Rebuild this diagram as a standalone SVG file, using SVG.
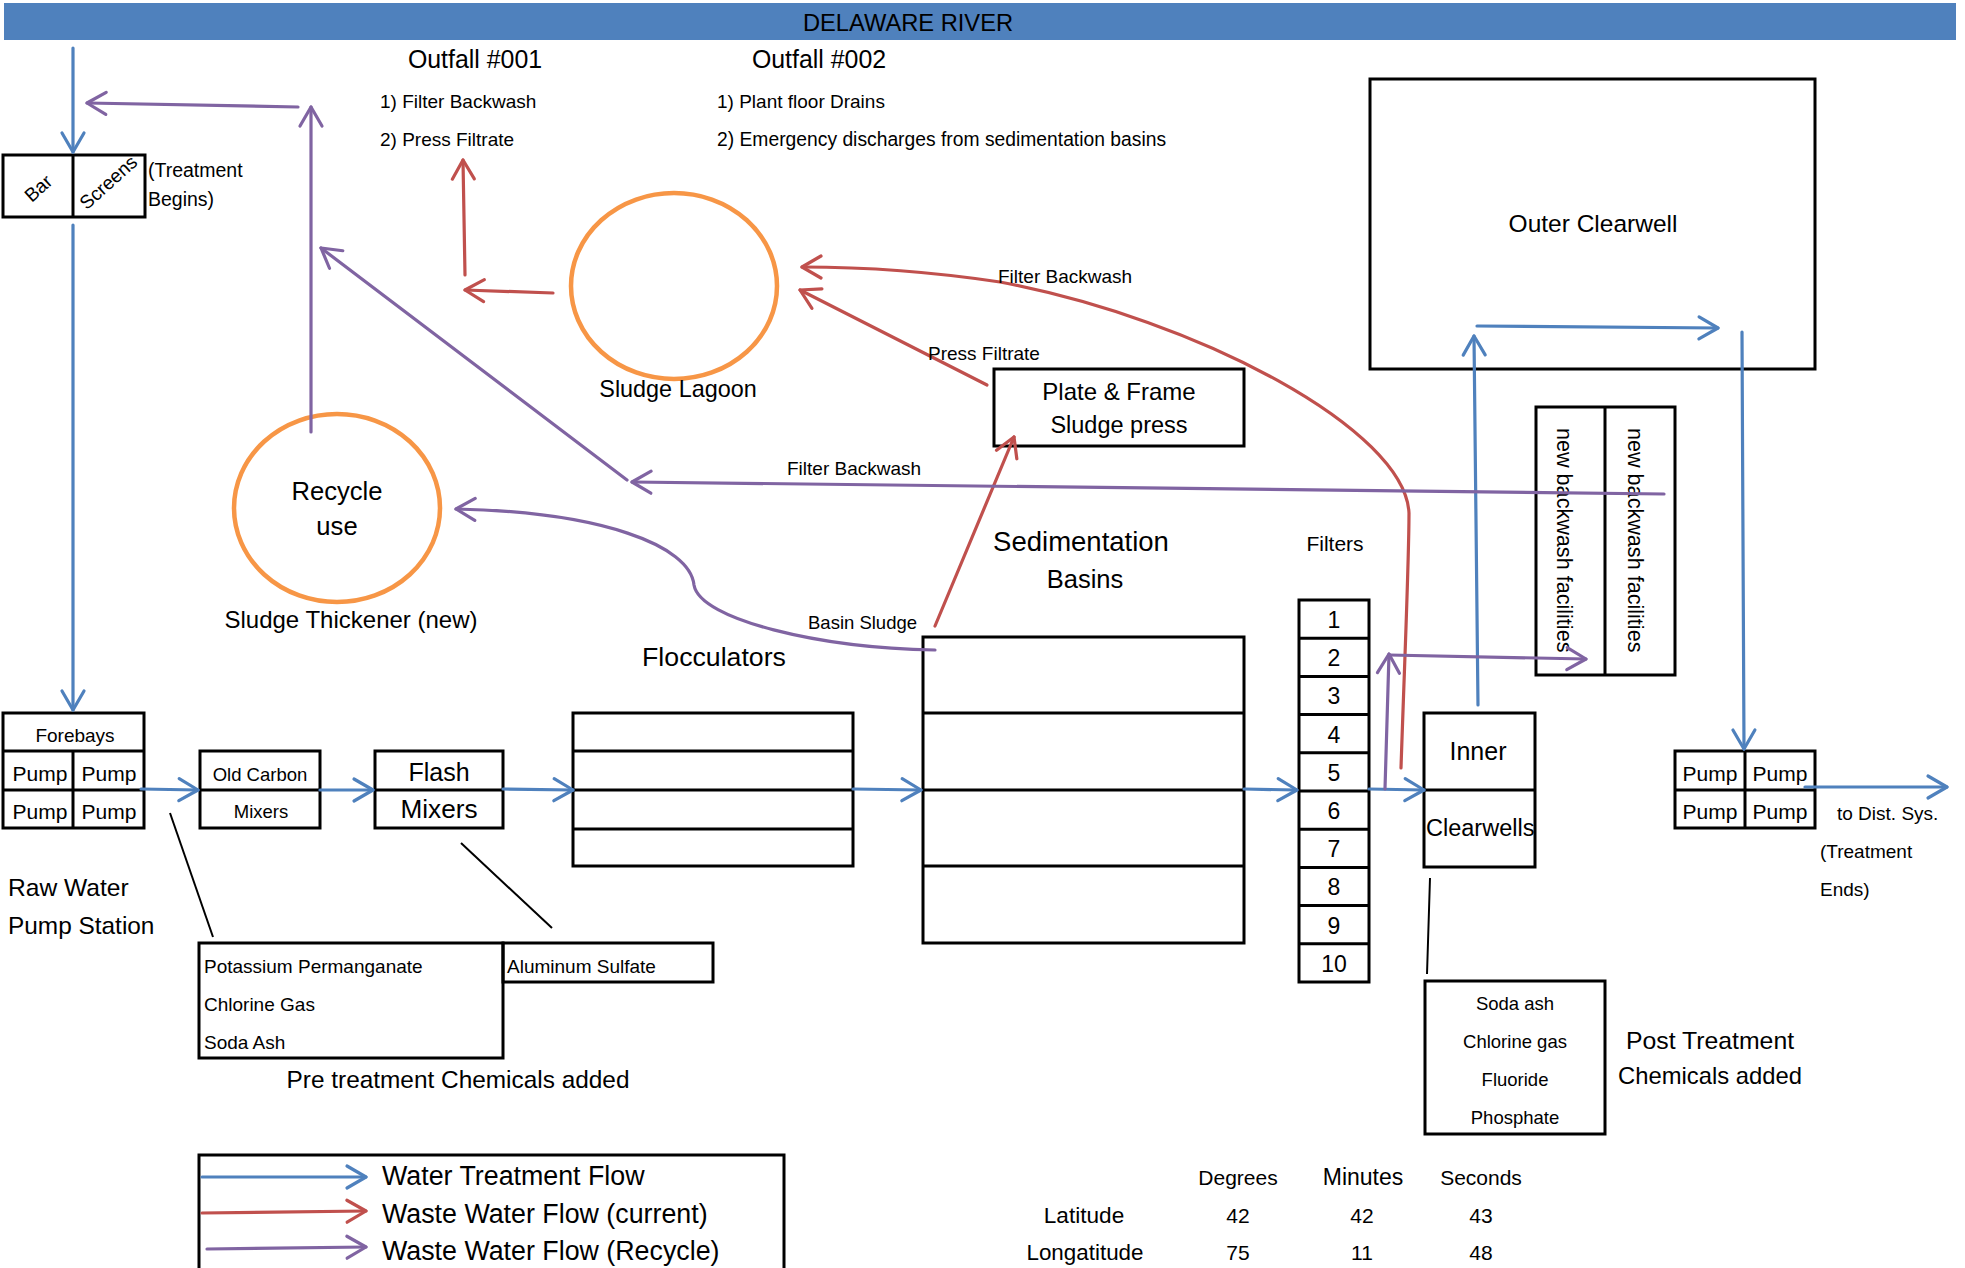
<svg xmlns="http://www.w3.org/2000/svg" width="1965" height="1268" viewBox="0 0 1965 1268">
<style>
text{font-family:"Liberation Sans",Arial,sans-serif;fill:#000}
.m{text-anchor:middle}
.box{fill:none;stroke:#000;stroke-width:3}
.ln{stroke:#000;stroke-width:3;fill:none}
.thin{stroke:#000;stroke-width:2;fill:none}
.circ{fill:none;stroke:#F79646;stroke-width:4.5}
.b{stroke:#4F81BD;stroke-width:3.2;fill:none;stroke-linecap:round}
.r{stroke:#C0504D;stroke-width:3.2;fill:none;stroke-linecap:round}
.p{stroke:#8064A2;stroke-width:3.2;fill:none;stroke-linecap:round}
.ba{marker-end:url(#mb)}
.ra{marker-end:url(#mr)}
.pa{marker-end:url(#mp)}
.s19{font-size:19px}
.s21{font-size:21px}
.s23{font-size:23.5px}
.s25{font-size:25px}
.leg{font-size:26.8px}
</style>
<defs>
<marker id="mb" markerUnits="userSpaceOnUse" viewBox="-24 -14 28 28" refX="0" refY="0" markerWidth="28" markerHeight="28" orient="auto" overflow="visible"><path d="M-19 -11 L0 0 L-19 11" fill="none" stroke="#4F81BD" stroke-width="3.2" stroke-linecap="round" stroke-linejoin="round"/></marker>
<marker id="mr" markerUnits="userSpaceOnUse" viewBox="-24 -14 28 28" refX="0" refY="0" markerWidth="28" markerHeight="28" orient="auto" overflow="visible"><path d="M-19 -11 L0 0 L-19 11" fill="none" stroke="#C0504D" stroke-width="3.2" stroke-linecap="round" stroke-linejoin="round"/></marker>
<marker id="mp" markerUnits="userSpaceOnUse" viewBox="-24 -14 28 28" refX="0" refY="0" markerWidth="28" markerHeight="28" orient="auto" overflow="visible"><path d="M-19 -11 L0 0 L-19 11" fill="none" stroke="#8064A2" stroke-width="3.2" stroke-linecap="round" stroke-linejoin="round"/></marker>
</defs>
<rect width="1965" height="1268" fill="#fff"/>

<g id="river">
<rect x="4" y="3" width="1952" height="37" fill="#4F81BD"/>
<text x="908" y="31" class="m" font-size="23.7">DELAWARE RIVER</text>
</g>

<g id="outfall-001">
<text x="475" y="68" class="m" font-size="24.9">Outfall #001</text>
<text x="380" y="108" class="s19">1) Filter Backwash</text>
<text x="380" y="146" class="s19">2) Press Filtrate</text>
</g>

<g id="outfall-002">
<text x="819" y="68" class="m" font-size="24.9">Outfall #002</text>
<text x="717" y="108" class="s19">1) Plant floor Drains</text>
<text x="717" y="146" font-size="19.3">2) Emergency discharges from sedimentation basins</text>
</g>

<g id="bar-screens">
<rect x="3" y="155" width="142" height="62" class="box"/>
<line x1="73" y1="155" x2="73" y2="217" class="ln"/>
<text transform="translate(38,188) rotate(-42)" y="7" class="m s19">Bar</text>
<text transform="translate(108,182) rotate(-42)" y="7" class="m s19">Screens</text>
<text x="148" y="177" font-size="19.5">(Treatment</text>
<text x="148" y="206" font-size="19.5">Begins)</text>
</g>

<g id="raw-water-pump-station">
<rect x="3" y="713" width="141" height="115" class="box"/>
<line x1="3" y1="751" x2="144" y2="751" class="ln"/>
<line x1="3" y1="790" x2="144" y2="790" class="ln"/>
<line x1="73" y1="751" x2="73" y2="828" class="ln"/>
<text x="75" y="742" class="m s19">Forebays</text>
<text x="40" y="781" class="m s21">Pump</text>
<text x="109" y="781" class="m s21">Pump</text>
<text x="40" y="819" class="m s21">Pump</text>
<text x="109" y="819" class="m s21">Pump</text>
<text x="8" y="896" font-size="24.6">Raw Water</text>
<text x="8" y="934" font-size="24.4">Pump Station</text>
</g>

<g id="old-carbon-mixers">
<rect x="200" y="751" width="120" height="77" class="box"/>
<line x1="200" y1="790" x2="320" y2="790" class="ln"/>
<text x="260" y="781" class="m" font-size="18.5">Old Carbon</text>
<text x="261" y="818" class="m" font-size="18.5">Mixers</text>
</g>

<g id="flash-mixers">
<rect x="375" y="751" width="128" height="77" class="box"/>
<line x1="375" y1="790" x2="503" y2="790" class="ln"/>
<text x="439" y="781" class="m s25">Flash</text>
<text x="439" y="818" class="m" font-size="26.2">Mixers</text>
</g>

<g id="flocculators">
<rect x="573" y="713" width="280" height="153" class="box"/>
<line x1="573" y1="751" x2="853" y2="751" class="ln"/>
<line x1="573" y1="790" x2="853" y2="790" class="ln"/>
<line x1="573" y1="829" x2="853" y2="829" class="ln"/>
<text x="714" y="666" class="m" font-size="26.7">Flocculators</text>
</g>

<g id="sedimentation-basins">
<rect x="923" y="637" width="321" height="306" class="box"/>
<line x1="923" y1="713" x2="1244" y2="713" class="ln"/>
<line x1="923" y1="790" x2="1244" y2="790" class="ln"/>
<line x1="923" y1="866" x2="1244" y2="866" class="ln"/>
<text x="1081" y="551" class="m" font-size="27.5">Sedimentation</text>
<text x="1085" y="588" class="m" font-size="25.5">Basins</text>
</g>

<g id="filters">
<rect x="1299" y="600" width="70" height="382" class="box"/>
<line x1="1299" y1="638.2" x2="1369" y2="638.2" class="ln"/>
<line x1="1299" y1="676.4" x2="1369" y2="676.4" class="ln"/>
<line x1="1299" y1="714.6" x2="1369" y2="714.6" class="ln"/>
<line x1="1299" y1="752.8" x2="1369" y2="752.8" class="ln"/>
<line x1="1299" y1="791" x2="1369" y2="791" class="ln"/>
<line x1="1299" y1="829.2" x2="1369" y2="829.2" class="ln"/>
<line x1="1299" y1="867.4" x2="1369" y2="867.4" class="ln"/>
<line x1="1299" y1="905.6" x2="1369" y2="905.6" class="ln"/>
<line x1="1299" y1="943.8" x2="1369" y2="943.8" class="ln"/>
<text x="1334" y="628" class="m" font-size="23">1</text>
<text x="1334" y="666.2" class="m" font-size="23">2</text>
<text x="1334" y="704.4" class="m" font-size="23">3</text>
<text x="1334" y="742.6" class="m" font-size="23">4</text>
<text x="1334" y="780.8" class="m" font-size="23">5</text>
<text x="1334" y="819" class="m" font-size="23">6</text>
<text x="1334" y="857.2" class="m" font-size="23">7</text>
<text x="1334" y="895.4" class="m" font-size="23">8</text>
<text x="1334" y="933.6" class="m" font-size="23">9</text>
<text x="1334" y="971.8" class="m" font-size="23">10</text>
<text x="1335" y="551" class="m s21">Filters</text>
</g>

<g id="inner-clearwells">
<rect x="1424" y="713" width="111" height="154" class="box"/>
<line x1="1424" y1="790" x2="1535" y2="790" class="ln"/>
<text x="1478" y="760" class="m" font-size="25">Inner</text>
<text x="1426" y="836" class="s23">Clearwells</text>
</g>

<g id="outer-clearwell">
<rect x="1370" y="79" width="445" height="290" class="box"/>
<text x="1593" y="232" class="m" font-size="24.5">Outer Clearwell</text>
</g>

<g id="new-backwash-facilities">
<rect x="1536" y="407" width="139" height="268" class="box"/>
<line x1="1605" y1="407" x2="1605" y2="675" class="ln"/>
<text transform="translate(1557,428) rotate(90)" font-size="21.6">new backwash facilities</text>
<text transform="translate(1628,428) rotate(90)" font-size="21.6">new backwash facilities</text>
</g>

<g id="finished-water-pumps">
<rect x="1675" y="751" width="140" height="77" class="box"/>
<line x1="1675" y1="790" x2="1815" y2="790" class="ln"/>
<line x1="1745" y1="751" x2="1745" y2="828" class="ln"/>
<text x="1710" y="781" class="m s21">Pump</text>
<text x="1780" y="781" class="m s21">Pump</text>
<text x="1710" y="819" class="m s21">Pump</text>
<text x="1780" y="819" class="m s21">Pump</text>
<text x="1837" y="820" class="s19">to Dist. Sys.</text>
<text x="1820" y="858" class="s19">(Treatment</text>
<text x="1820" y="896" class="s19">Ends)</text>
</g>

<g id="post-treatment-chemicals">
<rect x="1425" y="981" width="180" height="153" class="box"/>
<text x="1515" y="1010" class="m" font-size="18.5">Soda ash</text>
<text x="1515" y="1048" class="m" font-size="18.5">Chlorine gas</text>
<text x="1515" y="1086" class="m" font-size="18.5">Fluoride</text>
<text x="1515" y="1124" class="m" font-size="18.5">Phosphate</text>
<text x="1710" y="1049" class="m" font-size="24.8">Post Treatment</text>
<text x="1710" y="1084" class="m" font-size="23.8">Chemicals added</text>
</g>

<g id="pre-treatment-chemicals">
<rect x="199" y="943" width="304" height="115" class="box"/>
<rect x="503" y="943" width="210" height="39" class="box"/>
<text x="204" y="973" class="s19">Potassium Permanganate</text>
<text x="204" y="1011" class="s19">Chlorine Gas</text>
<text x="204" y="1049" class="s19">Soda Ash</text>
<text x="507" y="973" class="s19">Aluminum Sulfate</text>
<text x="458" y="1088" class="m" font-size="24.4">Pre treatment Chemicals added</text>
</g>

<g id="sludge-thickener">
<ellipse cx="337" cy="508" rx="103" ry="94" class="circ"/>
<text x="337" y="500" class="m" font-size="25.6">Recycle</text>
<text x="337" y="535" class="m" font-size="25.6">use</text>
<text x="351" y="628" class="m" font-size="24">Sludge Thickener (new)</text>
</g>

<g id="sludge-lagoon">
<ellipse cx="674" cy="286" rx="103" ry="93" class="circ"/>
<text x="678" y="397" class="m" font-size="23.4">Sludge Lagoon</text>
</g>

<g id="plate-frame-press">
<rect x="994" y="369" width="250" height="77" class="box"/>
<text x="1119" y="400" class="m" font-size="24">Plate &amp; Frame</text>
<text x="1119" y="433" class="m s23">Sludge press</text>
</g>

<g id="connectors">
<path d="M73 48 L73 152" class="b ba"/>
<path d="M73 225 L73 710" class="b ba"/>
<path d="M141 789 L198 790" class="b ba"/>
<path d="M320 790 L373 790" class="b ba"/>
<path d="M503 789 L573 790" class="b ba"/>
<path d="M853 789 L921 790" class="b ba"/>
<path d="M1244 789 L1297 790" class="b ba"/>
<path d="M1369 789 L1424 790" class="b ba"/>
<path d="M1478 705 L1474 336" class="b ba"/>
<path d="M1477 326 L1718 328" class="b ba"/>
<path d="M1742 332 L1744 749" class="b ba"/>
<path d="M1805 787 L1947 787" class="b ba"/>

<path d="M553 293 L465 290" class="r ra"/>
<path d="M465 275 L463 160" class="r ra"/>
<path d="M987 385 L800 290" class="r ra"/>
<path d="M935 626 L1014 437" class="r ra"/>
<path d="M1401 768 C1405 650 1409 560 1409 513 C1405 430 1200 320 1000 282 C920 270 850 267 802 267" class="r ra"/>

<path d="M311 432 L311 107" class="p pa"/>
<path d="M298 107 L87 103" class="p pa"/>
<path d="M627 480 L321 248" class="p pa"/>
<path d="M1664 494 L632 482" class="p pa"/>
<path d="M935 650 C820 648 700 620 694 585 C690 545 600 512 456 509" class="p pa"/>
<path d="M1385 789 L1389 654" class="p pa"/>
<path d="M1389 655 L1586 659" class="p pa"/>

<path d="M170 813 L213 937" class="thin"/>
<path d="M461 843 L552 928" class="thin"/>
<path d="M1430 878 L1427 974" class="thin"/>

<text x="998" y="283" class="s19">Filter Backwash</text>
<text x="928" y="360" class="s19">Press Filtrate</text>
<text x="787" y="475" class="s19">Filter Backwash</text>
<text x="808" y="629" font-size="18.5">Basin Sludge</text>
</g>

<g id="legend">
<rect x="199" y="1155" width="585" height="130" class="box"/>
<path d="M202 1177 L366 1177" class="b ba"/>
<path d="M202 1213 L366 1211" class="r ra"/>
<path d="M207 1249 L366 1247" class="p pa"/>
<text x="382" y="1185" class="leg">Water Treatment Flow</text>
<text x="382" y="1223" class="leg">Waste Water Flow (current)</text>
<text x="382" y="1260" class="leg">Waste Water Flow (Recycle)</text>
</g>

<g id="coordinates">
<text x="1238" y="1185" class="m s21">Degrees</text>
<text x="1363" y="1185" class="m" font-size="23">Minutes</text>
<text x="1481" y="1185" class="m s21">Seconds</text>
<text x="1084" y="1223" class="m" font-size="22.6">Latitude</text>
<text x="1238" y="1223" class="m s21">42</text>
<text x="1362" y="1223" class="m s21">42</text>
<text x="1481" y="1223" class="m s21">43</text>
<text x="1085" y="1260" class="m" font-size="22.4">Longatitude</text>
<text x="1238" y="1260" class="m s21">75</text>
<text x="1362" y="1260" class="m s21">11</text>
<text x="1481" y="1260" class="m s21">48</text>
</g>
</svg>
